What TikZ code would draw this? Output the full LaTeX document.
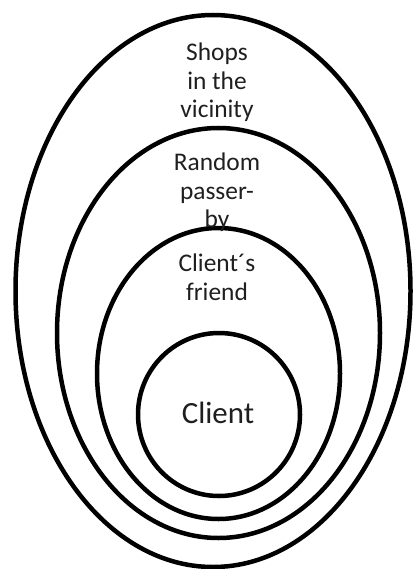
\documentclass[tikz,border=0pt]{standalone}
\usepackage{fontspec}
\setmainfont{Carlito}
\begin{document}
\begin{tikzpicture}[x=1bp,y=-1bp,
  ring/.style={draw=black,line width=4.5bp},
  lbl/.style={align=center,text=black!88,inner sep=0pt,font=\fontsize{25.5}{28.5}\selectfont},
  biglbl/.style={align=center,text=black!88,inner sep=0pt,font=\fontsize{31}{36}\selectfont}]
\useasboundingbox (0,0) rectangle (412,569);
\draw[ring] (213,291) ellipse [x radius=197.5, y radius=276];
\draw[ring] (218.5,333) ellipse [x radius=161.5, y radius=205];
\draw[ring] (218.5,373.5) ellipse [x radius=121.5, y radius=145.5];
\draw[ring] (219,414.5) ellipse [x radius=81, y radius=81.5];
\node[lbl,anchor=north] (shops) at (217,43) {Shops\\in the\\vicinity};
\node[lbl,anchor=north] (random) at (217,153) {Random\\passer-\\by};
\node[lbl,anchor=north] (friend) at (217,254) {Client´s\\friend};
\node[biglbl,anchor=base] (client) at (218,423) {Client};
\end{tikzpicture}
\end{document}
